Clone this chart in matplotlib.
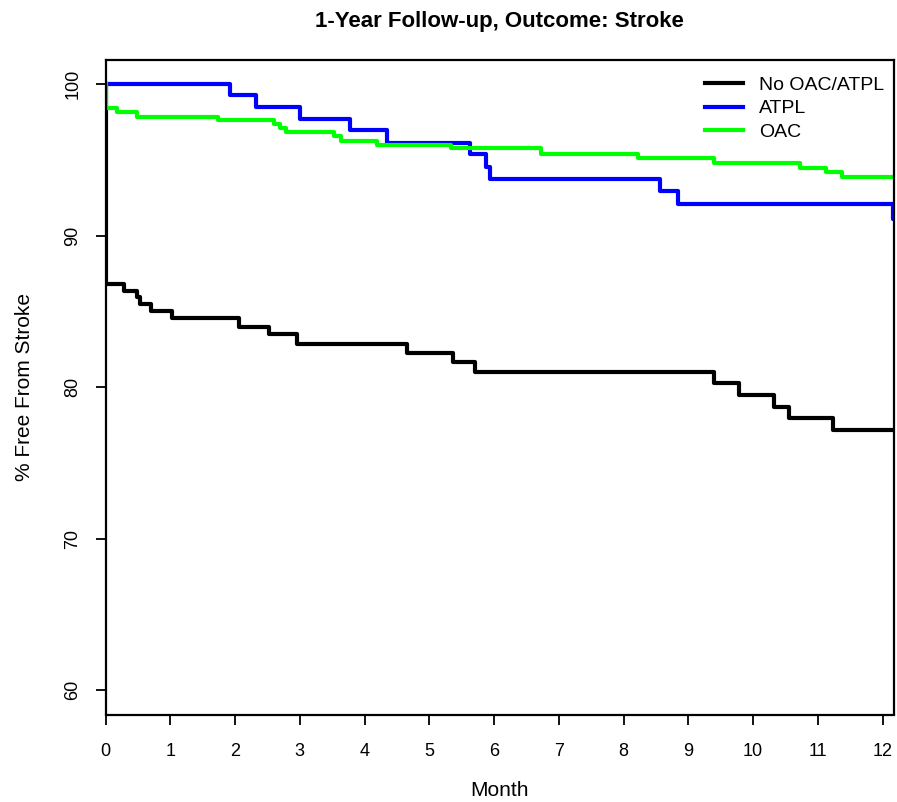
import matplotlib
matplotlib.use("Agg")
import matplotlib.pyplot as plt

# Kaplan-Meier style step curves (% free from stroke), months since baseline
none_t = [0, 0, 0.28, 0.49, 0.53, 0.70, 1.03, 2.06, 2.52, 2.96, 4.66, 5.37, 5.70,
          9.40, 9.78, 10.32, 10.55, 11.23, 12.17]
none_v = [100, 86.84, 86.36, 85.96, 85.48, 85.03, 84.55, 84.00, 83.49, 82.88, 82.26,
          81.69, 81.02, 80.27, 79.49, 78.71, 77.94, 77.20, 77.20]

atpl_t = [0, 1.93, 2.33, 3.00, 3.77, 4.34, 5.63, 5.87, 5.94, 8.57, 8.84, 12.16, 12.17]
atpl_v = [100, 99.32, 98.53, 97.70, 96.98, 96.15, 95.40, 94.56, 93.73, 92.93, 92.07,
          91.10, 91.10]

oac_t = [0, 0, 0.18, 0.49, 1.73, 2.60, 2.70, 2.79, 3.53, 3.63, 4.19, 5.33, 6.73, 8.22,
         9.40, 10.72, 11.12, 11.37, 12.17]
oac_v = [100, 98.43, 98.15, 97.86, 97.64, 97.38, 97.09, 96.83, 96.56, 96.28, 96.01,
         95.79, 95.38, 95.11, 94.80, 94.49, 94.18, 93.85, 93.85]

x_ticks = list(range(0, 13))
y_ticks = [60, 70, 80, 90, 100]

plt.rcParams["font.family"] = ["Liberation Sans", "DejaVu Sans"]

fig = plt.figure(figsize=(8.97, 8.02), dpi=100)
ax = fig.add_axes([105.5 / 897, 1 - 714.5 / 802, (893.6 - 105.5) / 897, (714.5 - 60) / 802])

ax.step(none_t, none_v, where="post", color="black", lw=3, label="No OAC/ATPL")
ax.step(atpl_t, atpl_v, where="post", color="#0000FF", lw=3, label="ATPL")
ax.step(oac_t, oac_v, where="post", color="#00FF00", lw=3, label="OAC")

ax.set_xlim(0, 12.17)
ax.set_ylim(58.4, 101.6)
ax.set_xticks(x_ticks)
ax.set_yticks(y_ticks)
ax.tick_params(axis="both", length=7.5, width=1.3, labelsize=13, pad=10)
ax.tick_params(axis="x", pad=13)
for lab in ax.get_yticklabels():
    lab.set_rotation(90)
    lab.set_va("center")
for s in ax.spines.values():
    s.set_linewidth(1.6)

ax.set_xlabel("Month", fontsize=15, labelpad=15)
ax.set_ylabel("% Free From Stroke", fontsize=15, labelpad=22)
ax.set_title("1-Year Follow-up, Outcome: Stroke", fontsize=16, fontweight="bold", pad=24)

ax.legend(loc="upper right", bbox_to_anchor=(0.988, 0.975), frameon=False, fontsize=14,
          handlelength=2.0, handletextpad=0.8, labelspacing=0.3, borderaxespad=0,
          borderpad=0)

fig.savefig("out.png", dpi=100)
